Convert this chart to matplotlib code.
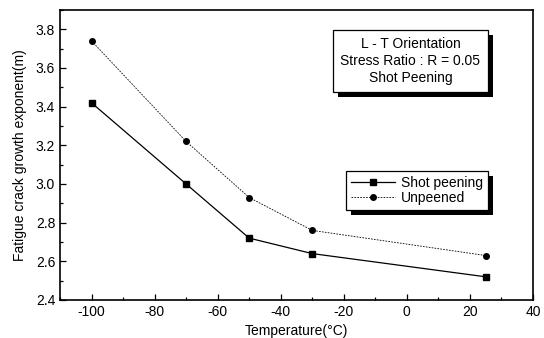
import matplotlib.pyplot as plt
from matplotlib.ticker import MultipleLocator
import matplotlib.patheffects as pe

plt.rcParams['font.family'] = ['Liberation Sans', 'DejaVu Sans']
plt.rcParams['axes.unicode_minus'] = False

# Crack growth exponent vs temperature
temp = [-100, -70, -50, -30, 25]
shot_peening = [3.42, 3.00, 2.72, 2.64, 2.52]
unpeened = [3.74, 3.22, 2.93, 2.76, 2.63]

fig = plt.figure(figsize=(5.44, 3.38), dpi=100)
ax = fig.add_axes([60 / 544, 38 / 338, 473 / 544, 290 / 338])

ax.plot(temp, shot_peening, '-', color='black', lw=0.9, marker='s', ms=4,
        label='Shot peening')
ax.plot(temp, unpeened, '--', color='black', lw=0.6, dashes=(2, 1.5),
        marker='o', ms=4, label='Unpeened')

ax.set_xlim(-110, 40)
ax.set_ylim(2.4, 3.9)
ax.xaxis.set_major_locator(MultipleLocator(20))
ax.xaxis.set_minor_locator(MultipleLocator(10))
ax.yaxis.set_major_locator(MultipleLocator(0.2))
ax.yaxis.set_minor_locator(MultipleLocator(0.1))
ax.tick_params(which='both', direction='in', top=False, right=False,
               labelsize=10, width=0.9)
ax.tick_params(which='major', length=4)
ax.tick_params(which='minor', length=2)
ax.yaxis.set_major_formatter(plt.FormatStrFormatter('%.1f'))
for s in ax.spines.values():
    s.set_linewidth(1.2)

ax.set_xlabel('Temperature(\u00b0C)', fontsize=10, labelpad=4)
ax.set_ylabel('Fatigue crack growth exponent(m)', fontsize=10, labelpad=6)

shadow = [pe.withSimplePatchShadow(offset=(3.5, -3.5), shadow_rgbFace='black', alpha=1)]

ax.text(0.741, 0.824, 'L - T Orientation\nStress Ratio : R = 0.05\nShot Peening',
        transform=ax.transAxes, ha='center', va='center', fontsize=10,
        linespacing=1.25,
        bbox=dict(boxstyle='square,pad=0.55', fc='white', ec='black', lw=0.9,
                  path_effects=shadow))

leg = ax.legend(loc='upper left', bbox_to_anchor=(0.605, 0.445), fontsize=10,
                frameon=True, fancybox=False, framealpha=1, edgecolor='black',
                handlelength=3.2, handletextpad=0.4, borderpad=0.35,
                labelspacing=0.1, borderaxespad=0)
leg.get_frame().set_linewidth(0.9)
leg.get_frame().set_path_effects(shadow)

fig.savefig('out.png', dpi=100)
